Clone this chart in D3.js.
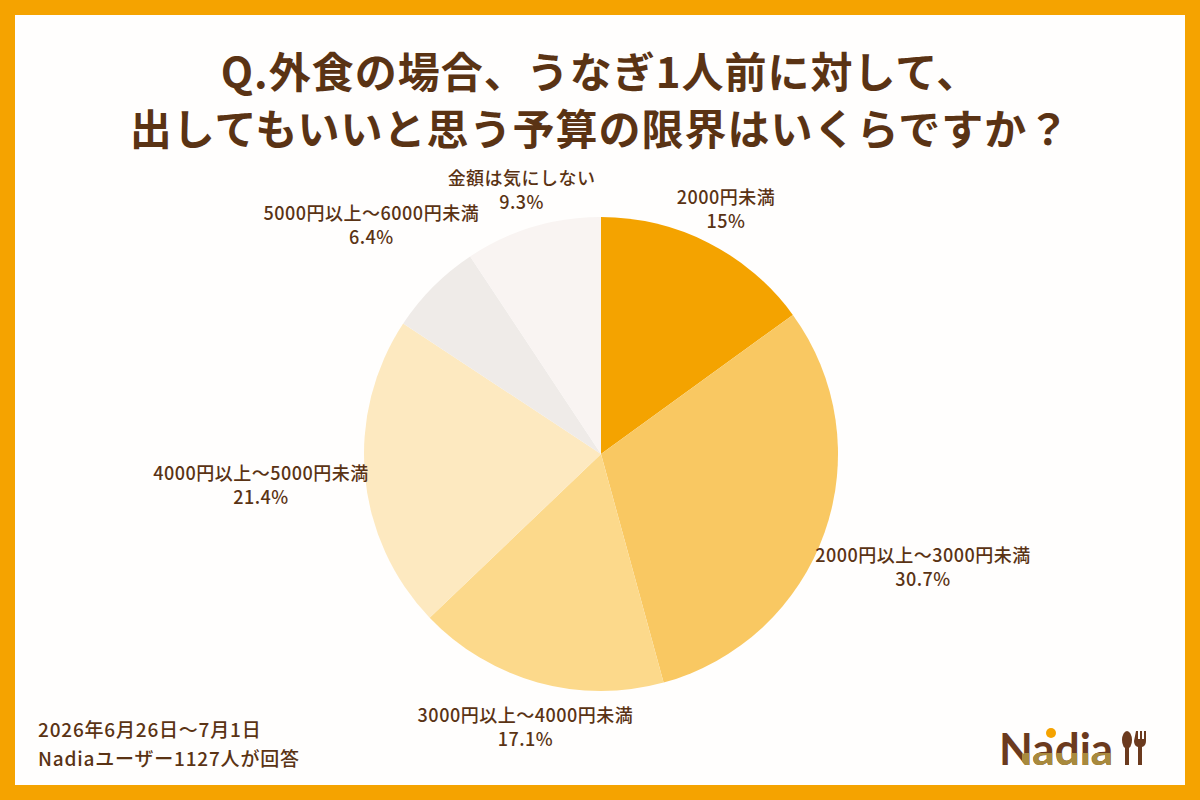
<!DOCTYPE html>
<meta charset="utf-8">
<head>
<title>うなぎ予算 円グラフ</title>
<script src="https://cdn.jsdelivr.net/npm/d3@7"></script>
<style>
  body { margin: 0; background: #fff; }
  text { font-family: "Noto Sans CJK JP", "Noto Sans", sans-serif; fill: #5a3314; }
  .title { font-size: 42px; font-weight: 700; letter-spacing: 1px; }
  .slice-label { font-size: 18px; font-weight: 500; letter-spacing: 0.5px; }
  .note { font-size: 19px; font-weight: 500; letter-spacing: 0.8px; }
</style>
</head>
<body>
<div id="chart"></div>
<script>
// data
var categories = ["2000円未満", "2000円以上～3000円未満", "3000円以上～4000円未満",
                  "4000円以上～5000円未満", "5000円以上～6000円未満", "金額は気にしない"];
var values = [15, 30.7, 17.1, 21.4, 6.4, 9.3];
var valueLabels = ["15%", "30.7%", "17.1%", "21.4%", "6.4%", "9.3%"];
var sliceColors = ["#f4a300", "#f9c862", "#fcd98b", "#fde9c0", "#efebe8", "#f9f4f2"];
var titleLines = ["Q.外食の場合、うなぎ1人前に対して、", "出してもいいと思う予算の限界はいくらですか？"];
var noteLines = ["2026年6月26日～7月1日", "Nadiaユーザー1127人が回答"];

var width = 1200, height = 800, frame = 15;
var cx = 601, cy = 454, radius = 237;

var svg = d3.select("#chart").append("svg")
    .attr("width", width)
    .attr("height", height);

// orange frame
svg.append("rect").attr("width", width).attr("height", height).attr("fill", "#f5a300");
svg.append("rect")
    .attr("x", frame).attr("y", frame)
    .attr("width", width - frame * 2).attr("height", height - frame * 2)
    .attr("fill", "#fffefd");

// title
svg.append("g").selectAll("text")
    .data(titleLines)
    .enter().append("text")
    .attr("class", "title")
    .attr("x", width / 2)
    .attr("y", function(d, i) { return 88 + i * 57; })
    .attr("text-anchor", "middle")
    .text(function(d) { return d; });

// pie
var rows = categories.map(function(c, i) {
    return { name: c, value: values[i], label: valueLabels[i], color: sliceColors[i] };
});
var pie = d3.pie().sort(null).value(function(d) { return d.value; });
var arc = d3.arc().innerRadius(0).outerRadius(radius);
var arcs = pie(rows);

var g = svg.append("g").attr("transform", "translate(" + cx + "," + cy + ")");
g.selectAll("path")
    .data(arcs)
    .enter().append("path")
    .attr("d", arc)
    .attr("fill", function(d) { return d.data.color; });

// labels: box centre placed on the mid-angle ray, just outside the pie
var labelGap = 232, boxH = 46;
var labels = g.selectAll("text.slice-label")
    .data(arcs)
    .enter().append("text")
    .attr("class", "slice-label")
    .attr("text-anchor", "middle");
labels.append("tspan").attr("class", "l1").text(function(d) { return d.data.name; });
labels.append("tspan").attr("class", "l2").text(function(d) { return d.data.label; });

labels.each(function(d) {
    var t = d3.select(this);
    var w = Math.max(t.select(".l1").node().getComputedTextLength(),
                     t.select(".l2").node().getComputedTextLength());
    var a = (d.startAngle + d.endAngle) / 2;
    var s = Math.sin(a), c = Math.cos(a);
    var r = labelGap + Math.abs(s) * w / 2 + Math.abs(c) * boxH / 2;
    var x = s * r, y = -c * r;
    var top = y - boxH / 2;
    t.select(".l1").attr("x", x).attr("y", top + 18);
    t.select(".l2").attr("x", x).attr("y", top + 42);
});

// footer note
svg.append("g").selectAll("text")
    .data(noteLines)
    .enter().append("text")
    .attr("class", "note")
    .attr("x", 38)
    .attr("y", function(d, i) { return 737 + i * 29; })
    .text(function(d) { return d; });

// Nadia logo (rough)
var brown = "#6b3a1e", gold = "#a88a3d";
svg.append("clipPath").attr("id", "lowerPart")
  .append("rect").attr("x", 1022).attr("y", 753).attr("width", 140).attr("height", 20);
var logo = svg.append("g");
function logoWord(fill) {
    return logo.append("text")
        .attr("x", 999).attr("y", 765)
        .style("font-family", "Lato, sans-serif")
        .style("font-size", "44px")
        .style("font-weight", 700)
        .style("fill", fill)
        .text("Nadia");
}
logoWord(brown);
logoWord(gold).attr("clip-path", "url(#lowerPart)");
logo.append("circle").attr("cx", 1051).attr("cy", 733).attr("r", 5).attr("fill", "#f5a300");
// spoon
logo.append("ellipse").attr("cx", 1127).attr("cy", 740).attr("rx", 5).attr("ry", 9).attr("fill", brown);
logo.append("rect").attr("x", 1125).attr("y", 745).attr("width", 4).attr("height", 20).attr("fill", brown);
// fork
logo.append("path")
    .attr("d", "M1136,731 h2 v8 h2 v-8 h2 v8 h2 v-8 h2 v10 q0,5 -4,6 v18 h-4 v-18 q-4,-1 -4,-6 z")
    .attr("fill", brown);
</script>
</body>
